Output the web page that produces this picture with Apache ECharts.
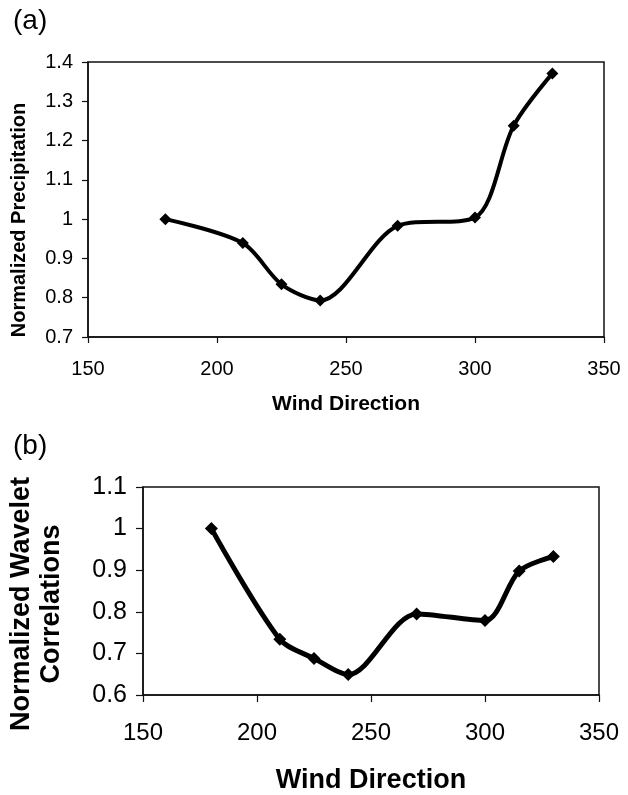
<!DOCTYPE html>
<html><head><meta charset="utf-8">
<script src="https://cdn.jsdelivr.net/npm/echarts@6/dist/echarts.min.js"></script>
<style>html,body{margin:0;padding:0;background:#fff}#c{width:628px;height:795px}</style>
</head><body><div id="c"></div>
<script>
// Data
const windDirection = [180, 210, 225, 240, 270, 300, 315, 330];
const normalizedPrecipitation = [1.0, 0.939, 0.834, 0.793, 0.983, 1.004, 1.238, 1.371];
const normalizedWaveletCorrelations = [1.0, 0.734, 0.688, 0.649, 0.795, 0.779, 0.898, 0.933];
const xTicks = [150, 200, 250, 300, 350];
const precipTicks = [0.7, 0.8, 0.9, 1.0, 1.1, 1.2, 1.3, 1.4];
const waveletTicks = [0.6, 0.7, 0.8, 0.9, 1.0, 1.1];
const panelLabels = ['(a)', '(b)'];
const xAxisName = 'Wind Direction';
const precipName = 'Normalized Precipitation';
const waveletName = 'Normalized Wavelet\nCorrelations';

const FONT = 'Liberation Sans, Arial, sans-serif';
const pairs = (ys) => windDirection.map((x, i) => [x, ys[i]]);

const chart = echarts.init(document.getElementById('c'), null, {renderer: 'canvas'});

function xAxisCfg(gridIndex, labelSize, nameSize, labelMargin, nameGap, tickLen) {
  return {
    gridIndex, type: 'value',
    min: xTicks[0], max: xTicks[xTicks.length - 1], interval: xTicks[1] - xTicks[0],
    name: xAxisName, nameLocation: 'middle', nameGap,
    nameTextStyle: {fontFamily: FONT, fontWeight: 'bold', fontSize: nameSize, color: '#000'},
    axisLine: {show: true, onZero: false, lineStyle: {color: '#111', width: 1.5}},
    axisTick: {show: true, inside: false, length: tickLen, lineStyle: {color: '#111', width: 1.2}},
    axisLabel: {fontFamily: FONT, fontSize: labelSize, color: '#000', margin: labelMargin},
    splitLine: {show: false}
  };
}
function yAxisCfg(gridIndex, ticks, labelSize, labelMargin, tickLen) {
  return {
    gridIndex, type: 'value',
    min: ticks[0], max: ticks[ticks.length - 1], interval: 0.1,
    axisLine: {show: true, onZero: false, lineStyle: {color: '#111', width: 1.5}},
    axisTick: {show: true, inside: false, length: tickLen, lineStyle: {color: '#111', width: 1.2}},
    axisLabel: {fontFamily: FONT, fontSize: labelSize, color: '#000', margin: labelMargin,
      formatter: (v) => String(Math.round(v * 10) / 10)},
    splitLine: {show: false}
  };
}

const option = {
  backgroundColor: '#fff',
  animation: false,
  grid: [
    {left: 88, top: 62, width: 516, height: 275, show: true, borderColor: '#111', borderWidth: 1.5, containLabel: false},
    {left: 143, top: 487, width: 456, height: 210, show: true, borderColor: '#111', borderWidth: 1.5, containLabel: false}
  ],
  xAxis: [
    xAxisCfg(0, 20, 21, 22, 57, 6),
    xAxisCfg(1, 24, 27, 26, 72, 7)
  ],
  yAxis: [
    yAxisCfg(0, precipTicks, 20, 15, 6),
    yAxisCfg(1, waveletTicks, 25, 16, 7)
  ],
  graphic: [
    {type: 'text', x: 13, y: 7, style: {text: panelLabels[0], font: '28px ' + FONT, fill: '#000', textAlign: 'left', textVerticalAlign: 'top'}},
    {type: 'text', x: 13, y: 432, style: {text: panelLabels[1], font: '28px ' + FONT, fill: '#000', textAlign: 'left', textVerticalAlign: 'top'}},
    {type: 'text', x: 19, y: 220, rotation: Math.PI / 2,
      style: {text: precipName, font: 'bold 20px ' + FONT, fill: '#000', textAlign: 'center', textVerticalAlign: 'middle'}},
    {type: 'text', x: 37, y: 604, rotation: Math.PI / 2,
      style: {text: waveletName, font: 'bold 27px ' + FONT, lineHeight: 30, fill: '#000', textAlign: 'center', textVerticalAlign: 'middle'}}
  ],
  series: [
    {type: 'line', xAxisIndex: 0, yAxisIndex: 0, data: pairs(normalizedPrecipitation),
      smooth: 0.3, symbol: 'diamond', symbolSize: [12, 12],
      lineStyle: {color: '#000', width: 4}, itemStyle: {color: '#000'}},
    {type: 'line', xAxisIndex: 1, yAxisIndex: 1, data: pairs(normalizedWaveletCorrelations),
      smooth: 0.3, symbol: 'diamond', symbolSize: [13, 13],
      lineStyle: {color: '#000', width: 5}, itemStyle: {color: '#000'}}
  ]
};
chart.setOption(option);
</script>
</body></html>
